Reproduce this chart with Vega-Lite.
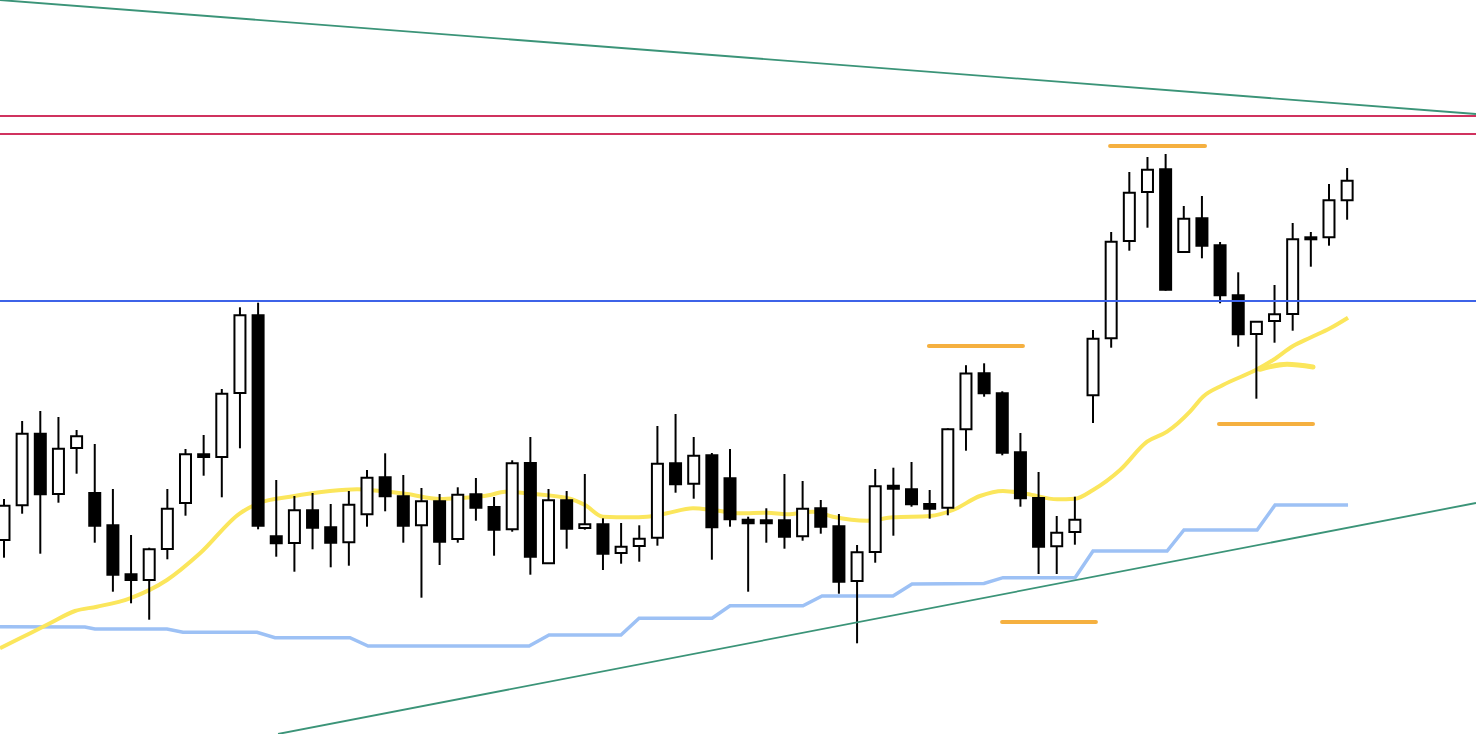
{
  "$schema": "https://vega.github.io/schema/vega-lite/v6.json",
  "width": 1476,
  "height": 734,
  "autosize": {"type": "fit", "contains": "padding"},
  "padding": 0,
  "background": "white",
  "config": {"view": {"stroke": null}, "scale": {"continuousPadding": 0}},
  "datasets": {
    "candles": [
      {"i":0,"o":194,"h":235,"l":176.3,"c":228.3},
      {"i":1,"o":228.7,"h":313,"l":220.3,"c":300.3},
      {"i":2,"o":300.3,"h":323,"l":180.3,"c":239.7},
      {"i":3,"o":240,"h":317,"l":231.3,"c":285.3},
      {"i":4,"o":286,"h":304,"l":260.3,"c":297.7},
      {"i":5,"o":241,"h":290,"l":191.3,"c":208.3},
      {"i":6,"o":208.7,"h":245,"l":142.3,"c":159.3},
      {"i":7,"o":159.7,"h":199,"l":130.7,"c":154},
      {"i":8,"o":154,"h":186.3,"l":114.3,"c":184.7},
      {"i":9,"o":185,"h":245,"l":174.7,"c":225.3},
      {"i":10,"o":231,"h":285,"l":218.3,"c":279.7},
      {"i":11,"o":279.7,"h":299,"l":258.3,"c":277},
      {"i":12,"o":277,"h":345,"l":236.7,"c":340.3},
      {"i":13,"o":341,"h":426.7,"l":285.7,"c":418.7},
      {"i":14,"o":418.7,"h":431.3,"l":204.7,"c":208.3},
      {"i":15,"o":197.7,"h":254,"l":177.3,"c":190.7},
      {"i":16,"o":191,"h":238,"l":162.3,"c":223.7},
      {"i":17,"o":223.7,"h":241,"l":184.7,"c":206.3},
      {"i":18,"o":206.7,"h":230,"l":166.7,"c":191.3},
      {"i":19,"o":191.7,"h":243,"l":168.3,"c":229.3},
      {"i":20,"o":219.7,"h":264,"l":207.3,"c":256.3},
      {"i":21,"o":256.7,"h":280.7,"l":222.7,"c":237.7},
      {"i":22,"o":237.7,"h":259,"l":191.3,"c":208.3},
      {"i":23,"o":208.7,"h":246,"l":136.3,"c":232.7},
      {"i":24,"o":232.7,"h":240,"l":169,"c":192.3},
      {"i":25,"o":195,"h":246.7,"l":191.3,"c":239.3},
      {"i":26,"o":239.7,"h":256,"l":213.3,"c":226.3},
      {"i":27,"o":227,"h":237,"l":178.3,"c":204.3},
      {"i":28,"o":204.7,"h":273.7,"l":202.3,"c":270.7},
      {"i":29,"o":271,"h":297,"l":159.3,"c":177.3},
      {"i":30,"o":170.7,"h":245,"l":170.7,"c":233.7},
      {"i":31,"o":233.7,"h":243,"l":185.3,"c":205.3},
      {"i":32,"o":206,"h":260,"l":204.3,"c":209.7},
      {"i":33,"o":209.7,"h":215.7,"l":164,"c":180.3},
      {"i":34,"o":181,"h":211,"l":170.3,"c":187.3},
      {"i":35,"o":188,"h":208.7,"l":172.3,"c":195.3},
      {"i":36,"o":196.3,"h":308,"l":188.3,"c":270.3},
      {"i":37,"o":270.7,"h":320,"l":241.3,"c":249.7},
      {"i":38,"o":250.3,"h":297,"l":235.3,"c":278.3},
      {"i":39,"o":278.7,"h":281,"l":174.3,"c":206.7},
      {"i":40,"o":255.7,"h":285,"l":207.3,"c":214.7},
      {"i":41,"o":214.3,"h":217.3,"l":142.3,"c":210.7},
      {"i":42,"o":213.7,"h":225.7,"l":191.3,"c":210.7},
      {"i":43,"o":213.7,"h":260,"l":185.3,"c":197.3},
      {"i":44,"o":197.7,"h":253,"l":193.3,"c":225.3},
      {"i":45,"o":225.7,"h":234,"l":200.3,"c":207.3},
      {"i":46,"o":207.7,"h":220,"l":140.3,"c":152.3},
      {"i":47,"o":153,"h":189,"l":90.7,"c":181.7},
      {"i":48,"o":182,"h":265,"l":171.3,"c":247.7},
      {"i":49,"o":248.3,"h":266.3,"l":198.3,"c":245.3},
      {"i":50,"o":244.7,"h":272,"l":227.3,"c":229.7},
      {"i":51,"o":230,"h":244,"l":215.3,"c":225.3},
      {"i":52,"o":226.3,"h":305.7,"l":218.7,"c":304.7},
      {"i":53,"o":304.7,"h":368.8,"l":283.3,"c":360.5},
      {"i":54,"o":360.7,"h":370.7,"l":337.3,"c":340.7},
      {"i":55,"o":340.7,"h":342.7,"l":278.7,"c":281.3},
      {"i":56,"o":281.7,"h":301,"l":227.3,"c":235.7},
      {"i":57,"o":236,"h":262,"l":160,"c":187.3},
      {"i":58,"o":187.7,"h":218,"l":160,"c":201.3},
      {"i":59,"o":202,"h":237.3,"l":189.3,"c":214.3},
      {"i":60,"o":338.7,"h":404,"l":311,"c":395.3},
      {"i":61,"o":395.7,"h":502,"l":386.3,"c":492.3},
      {"i":62,"o":493,"h":562,"l":483.3,"c":541.3},
      {"i":63,"o":542,"h":577,"l":506.3,"c":564.3},
      {"i":64,"o":564.7,"h":580,"l":443.3,"c":444.3},
      {"i":65,"o":482,"h":528,"l":482,"c":515.3},
      {"i":66,"o":515.7,"h":538,"l":475.7,"c":488.3},
      {"i":67,"o":488.7,"h":492,"l":430.7,"c":438.7},
      {"i":68,"o":438.7,"h":461.7,"l":387.3,"c":399.7},
      {"i":69,"o":400,"h":412.3,"l":335.3,"c":412.3},
      {"i":70,"o":413,"h":449,"l":391.3,"c":419.7},
      {"i":71,"o":420,"h":511,"l":403.3,"c":494.7},
      {"i":72,"o":496.7,"h":502,"l":467.3,"c":494.7},
      {"i":73,"o":496.7,"h":550,"l":488.3,"c":533.7},
      {"i":74,"o":533.7,"h":566,"l":514.3,"c":553.3}
    ],
    "ma": [
      {"i":-0.22,"v":85.7},{"i":0.88,"v":95.7},{"i":2.53,"v":110.7},{"i":3.91,"v":123},
      {"i":5.12,"v":127.3},{"i":6.94,"v":135.7},{"i":8.98,"v":154},{"i":10.8,"v":180.7},
      {"i":13.0,"v":220.7},{"i":14.1,"v":231.3},{"i":15.76,"v":237.3},{"i":17.96,"v":243},
      {"i":19.45,"v":244.7},{"i":20.72,"v":243},{"i":22.2,"v":240},{"i":24.02,"v":235},
      {"i":24.96,"v":235.7},{"i":26.78,"v":239},{"i":27.6,"v":242.3},{"i":28.98,"v":240.3},
      {"i":31.18,"v":235.3},{"i":32.01,"v":229},{"i":33.0,"v":217.3},{"i":34.49,"v":216.7},
      {"i":35.43,"v":217.3},{"i":36.53,"v":220.7},{"i":37.96,"v":225.7},{"i":39.06,"v":224},
      {"i":40.55,"v":220.7},{"i":42.04,"v":221.3},{"i":43.14,"v":219.7},{"i":44.57,"v":222.3},
      {"i":45.67,"v":217.3},{"i":47.55,"v":213.3},{"i":48.98,"v":216.7},{"i":51.02,"v":218},
      {"i":52.29,"v":224},{"i":53.77,"v":238},{"i":55.04,"v":243},{"i":56.36,"v":240},
      {"i":58.02,"v":234.7},{"i":59.01,"v":235.3},{"i":60.0,"v":244},{"i":61.49,"v":264},
      {"i":62.98,"v":292.3},{"i":64.08,"v":302.3},{"i":65.34,"v":322.3},{"i":66.06,"v":337.3},
      {"i":67.16,"v":349},{"i":69.04,"v":364.7},{"i":69.92,"v":374},{"i":71.02,"v":388},
      {"i":71.96,"v":396.3},{"i":73.06,"v":405.7},{"i":74.05,"v":416.3}
    ],
    "ma2": [
      {"i":69.2,"v":364.7},{"i":70.69,"v":369.7},{"i":72.12,"v":367}
    ],
    "base": [
      {"i":-0.22,"v":107.3},{"i":4.46,"v":107},{"i":5.01,"v":105},{"i":8.98,"v":105},
      {"i":9.86,"v":101.7},{"i":13.94,"v":101.7},{"i":14.93,"v":96.3},{"i":19.06,"v":96.3},
      {"i":20.06,"v":88},{"i":28.93,"v":88},{"i":30.03,"v":99},{"i":33.99,"v":99},
      {"i":34.99,"v":115.7},{"i":39.01,"v":115.7},{"i":40.0,"v":128.3},{"i":44.02,"v":128.3},
      {"i":45.07,"v":138},{"i":48.98,"v":138},{"i":50.03,"v":150},{"i":53.99,"v":150.5},
      {"i":55.04,"v":156.3},{"i":59.01,"v":156.3},{"i":60.0,"v":183},{"i":64.08,"v":183},
      {"i":65.01,"v":204},{"i":69.04,"v":204},{"i":70.03,"v":229},{"i":74.05,"v":229}
    ],
    "trend": [
      {"name":"upper","i":-0.22,"v":734},{"name":"upper","i":81.1,"v":620},
      {"name":"lower","i":15.1,"v":0},{"name":"lower","i":81.1,"v":231}
    ],
    "levels": [
      {"kind":"resistance","v":618,"color":"red"},
      {"kind":"resistance","v":600,"color":"red"},
      {"kind":"pivot","v":433,"color":"blue"}
    ],
    "marks": [
      {"i":60.94,"i2":66.17,"v":588},
      {"i":50.96,"i2":56.14,"v":388},
      {"i":66.94,"i2":72.12,"v":310},
      {"i":54.99,"i2":60.16,"v":112}
    ]
  },
  "layer": [
    {
      "data": {"name": "base"},
      "mark": {"type": "line", "color": "#9dc1f5", "strokeWidth": 3.5, "clip": true},
      "encoding": {
        "x": {"field": "i", "type": "quantitative", "scale": {"domain": [-0.22, 81.1], "nice": false, "zero": false, "padding": 0}, "axis": null},
        "y": {"field": "v", "type": "quantitative", "scale": {"domain": [0, 734], "nice": false, "zero": false}, "axis": null}
      }
    },
    {
      "data": {"name": "ma"},
      "mark": {"type": "line", "color": "#fbe65c", "strokeWidth": 4, "interpolate": "monotone", "clip": true},
      "encoding": {
        "x": {"field": "i", "type": "quantitative", "scale": {"domain": [-0.22, 81.1], "nice": false, "zero": false, "padding": 0}, "axis": null},
        "y": {"field": "v", "type": "quantitative", "scale": {"domain": [0, 734], "nice": false, "zero": false}, "axis": null}
      }
    },
    {
      "data": {"name": "ma2"},
      "mark": {"type": "line", "color": "#fbe65c", "strokeWidth": 5, "strokeCap": "round", "interpolate": "monotone", "clip": true},
      "encoding": {
        "x": {"field": "i", "type": "quantitative", "scale": {"domain": [-0.22, 81.1], "nice": false, "zero": false, "padding": 0}, "axis": null},
        "y": {"field": "v", "type": "quantitative", "scale": {"domain": [0, 734], "nice": false, "zero": false}, "axis": null}
      }
    },
    {
      "data": {"name": "candles"},
      "mark": {"type": "rule", "color": "black", "strokeWidth": 2, "clip": true},
      "encoding": {
        "x": {"field": "i", "type": "quantitative", "scale": {"domain": [-0.22, 81.1], "nice": false, "zero": false, "padding": 0}, "axis": null},
        "y": {"field": "l", "type": "quantitative", "scale": {"domain": [0, 734], "nice": false, "zero": false}, "axis": null},
        "y2": {"field": "h"}
      }
    },
    {
      "data": {"name": "candles"},
      "mark": {"type": "bar", "width": 11, "stroke": "black", "strokeWidth": 2, "clip": true},
      "encoding": {
        "x": {"field": "i", "type": "quantitative", "scale": {"domain": [-0.22, 81.1], "nice": false, "zero": false, "padding": 0}, "axis": null},
        "y": {"field": "o", "type": "quantitative", "scale": {"domain": [0, 734], "nice": false, "zero": false}, "axis": null},
        "y2": {"field": "c"},
        "fill": {"condition": {"test": "datum.c < datum.o", "value": "black"}, "value": "white"}
      }
    },
    {
      "data": {"name": "trend"},
      "mark": {"type": "line", "color": "#3b9478", "strokeWidth": 1.8, "clip": true},
      "encoding": {
        "x": {"field": "i", "type": "quantitative", "scale": {"domain": [-0.22, 81.1], "nice": false, "zero": false, "padding": 0}, "axis": null},
        "y": {"field": "v", "type": "quantitative", "scale": {"domain": [0, 734], "nice": false, "zero": false}, "axis": null},
        "detail": {"field": "name"}
      }
    },
    {
      "data": {"name": "levels"},
      "mark": {"type": "rule", "strokeWidth": 1.8, "clip": true},
      "encoding": {
        "y": {"field": "v", "type": "quantitative", "scale": {"domain": [0, 734], "nice": false, "zero": false}, "axis": null},
        "color": {"field": "color", "type": "nominal", "scale": {"domain": ["red", "blue"], "range": ["#d0325f", "#3d63e8"]}, "legend": null}
      }
    },
    {
      "data": {"name": "marks"},
      "mark": {"type": "rule", "color": "#f5b040", "strokeWidth": 4, "strokeCap": "round", "clip": true},
      "encoding": {
        "x": {"field": "i", "type": "quantitative", "scale": {"domain": [-0.22, 81.1], "nice": false, "zero": false, "padding": 0}, "axis": null},
        "x2": {"field": "i2"},
        "y": {"field": "v", "type": "quantitative", "scale": {"domain": [0, 734], "nice": false, "zero": false}, "axis": null}
      }
    }
  ]
}
